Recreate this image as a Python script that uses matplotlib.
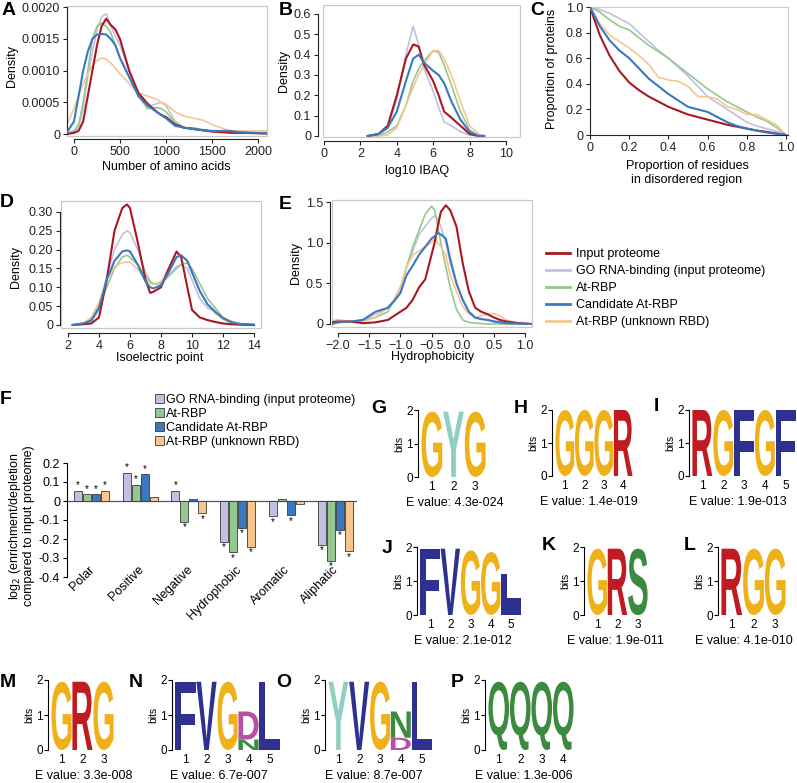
import numpy as np
import matplotlib
matplotlib.use('Agg')
import matplotlib.pyplot as plt
from matplotlib.patches import Rectangle, PathPatch, Patch
from matplotlib.lines import Line2D
from matplotlib.textpath import TextPath
from matplotlib.font_manager import FontProperties
from matplotlib.transforms import Affine2D

plt.rcParams['font.family'] = 'Liberation Sans'
plt.rcParams['font.size'] = 9
FS = 9

######################################################################## data
series = ['Input proteome', 'GO RNA-binding (input proteome)', 'At-RBP',
          'Candidate At-RBP', 'At-RBP (unknown RBD)']
colors = {'Input proteome': '#a8191f',
          'GO RNA-binding (input proteome)': '#c3bfe0',
          'At-RBP': '#93c98f',
          'Candidate At-RBP': '#3b78c2',
          'At-RBP (unknown RBD)': '#f6c590'}

# A : protein length
a_x = [-76, 0, 50, 100, 150, 200, 250, 300, 350, 400, 450, 500, 600, 700, 800, 900,
       950, 1000, 1100, 1200, 1300, 1400, 1500, 1600, 1700, 1800, 2098]
a_red = [0, 0.00002, 0.00005, 0.0002, 0.0006, 0.001, 0.0014, 0.0017, 0.00182, 0.00172,
         0.00165, 0.0015, 0.001, 0.00065, 0.00048, 0.00035, 0.0003, 0.00027, 0.00015,
         0.0001, 0.00008, 0.00006, 0.00004, 0.00003, 0.00002, 0.00002, 0.00001]
a_go = [0.00001, 0.00003, 0.0001, 0.0004, 0.0009, 0.0013, 0.00165, 0.00185, 0.0019,
        0.0017, 0.00155, 0.0014, 0.001, 0.0006, 0.00043, 0.00048, 0.0005, 0.00045,
        0.0002, 0.0001, 0.00008, 0.00006, 0.00005, 0.00004, 0.00003, 0.00002, 0.00001]
a_at = [0.00002, 0.00005, 0.00015, 0.0005, 0.001, 0.0015, 0.0017, 0.00175, 0.0017,
        0.0016, 0.0014, 0.0012, 0.0009, 0.0006, 0.0004, 0.00042, 0.0004, 0.00035,
        0.00018, 0.0001, 0.0001, 0.00007, 0.00005, 0.00004, 0.00003, 0.00002, 0.00001]
a_cand = [0.00003, 0.0002, 0.0006, 0.001, 0.0013, 0.0015, 0.00157, 0.00158, 0.00157,
          0.0015, 0.0014, 0.0012, 0.0009, 0.0006, 0.00045, 0.00035, 0.0003, 0.00025,
          0.00013, 0.0001, 0.00008, 0.00006, 0.00005, 0.00005, 0.00005, 0.00003, 0.00001]
a_unk = [0.00016, 0.0004, 0.0006, 0.0008, 0.00095, 0.00108, 0.00116, 0.0012, 0.00118,
         0.00112, 0.00104, 0.00095, 0.0008, 0.00065, 0.0006, 0.00055, 0.0005, 0.00047,
         0.00035, 0.00028, 0.00025, 0.00022, 0.00015, 0.0001, 0.00005, 0.00005, 0.00005]

# B : log10 IBAQ
b_x = [2.4, 3.0, 3.5, 4.0, 4.5, 4.9, 5.2, 5.5, 6.0, 6.3, 6.6, 7.0, 7.5, 8.0, 8.5, 8.8]
b_red = [0, 0.01, 0.05, 0.2, 0.38, 0.45, 0.44, 0.35, 0.27, 0.2, 0.12, 0.09, 0.05, 0.01, 0.0, 0]
b_go = [0, 0.01, 0.04, 0.18, 0.4, 0.54, 0.45, 0.33, 0.22, 0.14, 0.07, 0.05, 0.02, 0.005, 0, 0]
b_at = [0, 0, 0.02, 0.05, 0.15, 0.27, 0.33, 0.37, 0.42, 0.41, 0.35, 0.25, 0.12, 0.03, 0, 0]
b_cand = [0, 0.01, 0.04, 0.12, 0.27, 0.38, 0.4, 0.36, 0.32, 0.3, 0.26, 0.17, 0.08, 0.02, 0, 0]
b_unk = [0, 0, 0.005, 0.04, 0.15, 0.24, 0.3, 0.35, 0.42, 0.42, 0.38, 0.3, 0.17, 0.05, 0.01, 0]

# C : disorder
c_x = [0, 0.05, 0.1, 0.15, 0.2, 0.25, 0.3, 0.35, 0.4, 0.45, 0.5, 0.55, 0.6, 0.65, 0.7,
       0.75, 0.8, 0.85, 0.9, 0.95, 1.0]
c_red = [1, 0.78, 0.62, 0.5, 0.41, 0.35, 0.3, 0.26, 0.22, 0.19, 0.16, 0.14, 0.12, 0.1,
         0.08, 0.065, 0.05, 0.035, 0.025, 0.012, 0]
c_go = [1, 0.98, 0.95, 0.91, 0.87, 0.8, 0.73, 0.66, 0.6, 0.53, 0.46, 0.38, 0.3, 0.25,
        0.2, 0.15, 0.1, 0.07, 0.05, 0.03, 0]
c_at = [1, 0.96, 0.9, 0.85, 0.82, 0.76, 0.7, 0.65, 0.6, 0.54, 0.48, 0.42, 0.36, 0.31,
        0.26, 0.22, 0.18, 0.14, 0.11, 0.06, 0]
c_cand = [1, 0.85, 0.74, 0.66, 0.6, 0.52, 0.44, 0.38, 0.32, 0.27, 0.22, 0.2, 0.18, 0.14,
          0.1, 0.07, 0.05, 0.035, 0.02, 0.01, 0]
c_unk = [1, 0.87, 0.78, 0.73, 0.68, 0.62, 0.55, 0.45, 0.43, 0.42, 0.38, 0.3, 0.3, 0.28,
         0.22, 0.2, 0.16, 0.16, 0.12, 0.08, 0]

# D : isoelectric point
d_x = [2.3, 3.0, 3.5, 4.0, 4.5, 5.0, 5.5, 5.8, 6.0, 6.5, 7.0, 7.3, 7.5, 8.0, 8.5, 9.0,
       9.3, 9.7, 10.0, 10.5, 11.0, 11.5, 12.0, 12.5, 13.0, 14.0]
d_red = [0, 0.002, 0.004, 0.02, 0.12, 0.25, 0.31, 0.32, 0.31, 0.22, 0.12, 0.085, 0.088,
         0.1, 0.15, 0.195, 0.18, 0.1, 0.04, 0.02, 0.013, 0.008, 0.004, 0.002, 0.001, 0]
d_go = [0, 0.003, 0.01, 0.04, 0.13, 0.2, 0.24, 0.25, 0.245, 0.2, 0.14, 0.115, 0.108,
        0.11, 0.13, 0.155, 0.16, 0.15, 0.12, 0.07, 0.045, 0.035, 0.02, 0.01, 0.004, 0]
d_at = [0, 0.005, 0.015, 0.05, 0.1, 0.15, 0.18, 0.185, 0.18, 0.16, 0.13, 0.115, 0.11,
        0.11, 0.13, 0.15, 0.16, 0.165, 0.15, 0.11, 0.07, 0.045, 0.02, 0.01, 0.004, 0]
d_cand = [0, 0.004, 0.012, 0.045, 0.12, 0.17, 0.195, 0.198, 0.195, 0.16, 0.115, 0.1,
          0.097, 0.105, 0.14, 0.18, 0.185, 0.17, 0.14, 0.09, 0.055, 0.035, 0.018, 0.008,
          0.003, 0.001]
d_unk = [0.001, 0.005, 0.02, 0.06, 0.12, 0.155, 0.165, 0.167, 0.167, 0.148, 0.122, 0.11,
         0.108, 0.115, 0.15, 0.18, 0.185, 0.17, 0.14, 0.09, 0.055, 0.03, 0.015, 0.006,
         0.002, 0]

# E : hydrophobicity
e_x = [-2.1, -2.0, -1.8, -1.6, -1.4, -1.2, -1.1, -1.0, -0.9, -0.8, -0.7, -0.6, -0.5,
       -0.45, -0.4, -0.35, -0.27, -0.2, -0.1, 0.0, 0.1, 0.2, 0.3, 0.4, 0.5, 0.6, 0.7,
       0.9, 1.1]
e_red = [0.02, 0.03, 0.03, 0.01, 0.02, 0.05, 0.1, 0.15, 0.2, 0.3, 0.45, 0.55, 0.85, 1.0,
         1.2, 1.38, 1.46, 1.4, 1.2, 0.75, 0.4, 0.2, 0.15, 0.12, 0.08, 0.05, 0.03, 0.01, 0]
e_go = [0.04, 0.05, 0.03, 0.05, 0.12, 0.2, 0.3, 0.4, 0.7, 0.9, 1.1, 1.2, 1.3, 1.33, 1.3,
        1.2, 1.0, 0.75, 0.5, 0.3, 0.15, 0.07, 0.06, 0.05, 0.04, 0.03, 0.02, 0.01, 0]
e_at = [0.02, 0.03, 0.03, 0.05, 0.08, 0.15, 0.3, 0.45, 0.7, 0.95, 1.15, 1.35, 1.45, 1.4,
        1.2, 1.0, 0.7, 0.45, 0.18, 0.05, 0.02, 0.01, 0.005, 0, 0, 0, 0, 0, 0]
e_cand = [0.0, 0.02, 0.03, 0.05, 0.15, 0.2, 0.28, 0.38, 0.6, 0.72, 0.85, 0.95, 1.05,
          1.08, 1.12, 1.1, 1.05, 0.8, 0.5, 0.3, 0.15, 0.08, 0.06, 0.05, 0.03, 0.02, 0.01,
          0.005, 0]
e_unk = [0.03, 0.05, 0.03, 0.03, 0.08, 0.2, 0.3, 0.45, 0.7, 0.85, 0.9, 0.95, 1.0, 1.05,
         1.0, 0.95, 0.85, 0.6, 0.4, 0.22, 0.12, 0.08, 0.1, 0.12, 0.13, 0.1, 0.05, 0.01, 0]

# F : residue class enrichment
f_cats = ['Polar', 'Positive', 'Negative', 'Hydrophobic', 'Aromatic', 'Aliphatic']
f_go = [0.055, 0.15, 0.055, -0.215, -0.08, -0.23]
f_at = [0.035, 0.085, -0.11, -0.27, 0.01, -0.315]
f_cand = [0.035, 0.14, 0.01, -0.14, -0.075, -0.15]
f_unk = [0.055, 0.02, -0.065, -0.24, -0.015, -0.265]
f_go_sig = [1, 1, 1, 1, 1, 1]
f_at_sig = [1, 1, 1, 1, 0, 1]
f_cand_sig = [1, 1, 0, 1, 1, 1]
f_unk_sig = [1, 0, 1, 1, 0, 1]

# G-P : motifs, each column bottom -> top (letter, bits)
logo_G = [[('G', 1.95)], [('Y', 1.95)], [('G', 1.95)]]
logo_H = [[('G', 2.0)], [('G', 2.0)], [('G', 2.0)], [('R', 2.0)]]
logo_I = [[('R', 2.0)], [('G', 2.0)], [('F', 2.0)], [('G', 2.0)], [('F', 2.0)]]
logo_J = [[('F', 1.95)], [('V', 1.95)], [('G', 1.9)], [('G', 1.85)], [('I', 0.35), ('L', 0.85)]]
logo_K = [[('G', 1.95)], [('R', 1.95)], [('S', 1.95)]]
logo_L = [[('R', 1.95)], [('G', 1.95)], [('G', 1.95)]]
logo_M = [[('G', 1.95)], [('R', 1.95)], [('G', 1.95)]]
logo_N = [[('F', 1.95)], [('V', 1.95)], [('G', 1.95)], [('N', 0.3), ('D', 0.8)], [('L', 1.95)]]
logo_O = [[('Y', 1.95)], [('V', 1.95)], [('G', 1.95)], [('D', 0.35), ('N', 0.75)], [('L', 1.95)]]
logo_P = [[('Q', 1.95)], [('Q', 1.95)], [('Q', 1.95)], [('Q', 1.95)]]
evalues = {'G': '4.3e-024', 'H': '1.4e-019', 'I': '1.9e-013', 'J': '2.1e-012',
           'K': '1.9e-011', 'L': '4.1e-010', 'M': '3.3e-008', 'N': '6.7e-007',
           'O': '8.7e-007', 'P': '1.3e-006'}
letter_colors = {'G': '#efb11a', 'Y': '#8fcfc1', 'R': '#c11b22', 'F': '#2f3190',
                 'V': '#2f3190', 'L': '#2f3190', 'I': '#2f3190', 'S': '#3b8a3e',
                 'Q': '#3b8a3e', 'N': '#3b8a3e', 'D': '#b552a6'}

######################################################################## figure
W, H = 797, 783
fig = plt.figure(figsize=(W / 100, H / 100), dpi=100)


def add_ax(l, t, r, b):
    return fig.add_axes([l / W, 1 - b / H, (r - l) / W, (b - t) / H])


def ftext(x, y, s, **kw):
    fig.text(x / W, 1 - y / H, s, **kw)


def density_panel(box, xlim, ylim, xticks, yticks, xlabs, ylabs, left_off, bot_off, curves, x):
    ax = add_ax(*box)
    ax.set_xlim(*xlim)
    ax.set_ylim(*ylim)
    ax.spines['top'].set_visible(False)
    ax.spines['right'].set_visible(False)
    ax.add_patch(Rectangle((0, 0), 1, 1, transform=ax.transAxes, fill=False,
                           ec='#c9c9c9', lw=0.9, clip_on=False, zorder=0))
    ax.spines['left'].set_position(('outward', left_off * 0.72))
    ax.spines['bottom'].set_position(('outward', bot_off * 0.72))
    ax.spines['left'].set_bounds(yticks[0], yticks[-1])
    ax.spines['bottom'].set_bounds(xticks[0], xticks[-1])
    for sp in ['left', 'bottom']:
        ax.spines[sp].set_linewidth(0.8)
        ax.spines[sp].set_color('#222222')
    ax.set_xticks(xticks)
    ax.set_xticklabels(xlabs)
    ax.set_yticks(yticks)
    ax.set_yticklabels(ylabs)
    ax.tick_params(labelsize=FS, length=3, width=0.8, pad=2, colors='#222222')
    for name, yv in zip(series, curves):
        lw = 1.5 if name in ('Input proteome', 'Candidate At-RBP') else 1.2
        ax.plot(x, yv, color=colors[name], lw=lw, zorder=3 if lw > 1.3 else 2)
    return ax


# A
density_panel((67, 6, 267, 136), (-76, 2098), (-0.00003, 0.00202),
              [0, 500, 1000, 1500, 2000], [0, 0.0005, 0.001, 0.0015, 0.002],
              ['0', '500', '1000', '1500', '2000'],
              ['0', '0.0005', '0.0010', '0.0015', '0.0020'], 0, 3,
              [a_red, a_go, a_at, a_cand, a_unk], a_x)
ftext(166, 167, 'Number of amino acids', ha='center', va='center')
ftext(12, 66, 'Density', rotation=90, ha='center', va='center')

# B
density_panel((323, 5, 520, 137), (-0.055, 10.77), (-0.005, 0.644),
              [0, 2, 4, 6, 8, 10], [0, 0.1, 0.2, 0.3, 0.4, 0.5, 0.6],
              ['0', '2', '4', '6', '8', '10'],
              ['0', '0.1', '0.2', '0.3', '0.4', '0.5', '0.6'], 5, 4,
              [b_red, b_go, b_at, b_cand, b_unk], b_x)
ftext(417, 171, 'log10 IBAQ', ha='center', va='center')
ftext(284, 71, 'Density', rotation=90, ha='center', va='center')

# C
axc = add_ax(590, 7, 788, 135)
axc.set_xlim(0, 1.01)
axc.set_ylim(0, 1.0)
for sp in ['top', 'right']:
    axc.spines[sp].set_color('#c9c9c9')
for sp in ['left', 'bottom']:
    axc.spines[sp].set_color('#222222')
    axc.spines[sp].set_linewidth(0.8)
axc.set_xticks([0, 0.2, 0.4, 0.6, 0.8, 1.0])
axc.set_xticklabels(['0', '0.2', '0.4', '0.6', '0.8', '1.0'])
axc.set_yticks([0, 0.2, 0.4, 0.6, 0.8, 1.0])
axc.set_yticklabels(['0', '0.2', '0.4', '0.6', '0.8', '1.0'])
axc.tick_params(labelsize=FS, length=3, width=0.8, pad=2, colors='#222222')
for name, yv in zip(series, [c_red, c_go, c_at, c_cand, c_unk]):
    lw = 1.5 if name in ('Input proteome', 'Candidate At-RBP') else 1.2
    axc.plot(c_x, yv, color=colors[name], lw=lw, zorder=3 if lw > 1.3 else 2)
ftext(687, 173, 'Proportion of residues\nin disordered region', ha='center',
      va='center', linespacing=1.2)
ftext(552, 69, 'Proportion of proteins', rotation=90, ha='center', va='center')

# D
density_panel((61, 201, 261, 328), (1.55, 14.45), (-0.008, 0.329),
              [2, 4, 6, 8, 10, 12, 14], [0, 0.05, 0.1, 0.15, 0.2, 0.25, 0.3],
              ['2', '4', '6', '8', '10', '12', '14'],
              ['0', '0.05', '0.10', '0.15', '0.20', '0.25', '0.30'], 1, 5,
              [d_red, d_go, d_at, d_cand, d_unk], d_x)
ftext(160, 358, 'Isoelectric point', ha='center', va='center')
ftext(16, 267, 'Density', rotation=90, ha='center', va='center')

# E
density_panel((332, 200, 532, 327), (-2.096, 1.112), (-0.037, 1.525),
              [-2, -1.5, -1, -0.5, 0, 0.5, 1], [0, 0.5, 1.0, 1.5],
              ['\u22122.0', '\u22121.5', '\u22121.0', '\u22120.5', '0.0', '0.5', '1.0'],
              ['0', '0.5', '1.0', '1.5'], 2, 6,
              [e_red, e_go, e_at, e_cand, e_unk], e_x)
ftext(433, 357, 'Hydrophobicity', ha='center', va='center')
ftext(296, 263, 'Density', rotation=90, ha='center', va='center')

# legend for A-E
fig.legend(handles=[Line2D([], [], color=colors[s], lw=2) for s in series],
           labels=series, loc='upper left', bbox_to_anchor=(546 / W, 1 - 248 / H),
           frameon=False, fontsize=FS, handlelength=1.9, handletextpad=0.5,
           labelspacing=0.4, borderpad=0, borderaxespad=0)

# F
axf = add_ax(67, 463, 357, 577)
axf.set_xlim(-0.503, 5.45)
axf.set_ylim(-0.4, 0.2)
for sp in ['top', 'right', 'bottom']:
    axf.spines[sp].set_visible(False)
axf.spines['left'].set_linewidth(0.8)
axf.axhline(0, color='#555555', lw=0.9, zorder=1)
axf.set_yticks([0.2, 0.1, 0, -0.1, -0.2, -0.3, -0.4])
axf.set_yticklabels(['0.2', '0.1', '0', '-0.1', '-0.2', '-0.3', '-0.4'])
axf.set_xticks([])
axf.tick_params(axis='y', labelsize=FS, length=3, width=0.8, pad=2)
pitch, bw = 0.185, 0.165
xpos = np.arange(len(f_cats))
fser = [(f_go, f_go_sig, series[1]), (f_at, f_at_sig, series[2]),
        (f_cand, f_cand_sig, series[3]), (f_unk, f_unk_sig, series[4])]
for k, (vals, sig, name) in enumerate(fser):
    xs = xpos + (k - 1.5) * pitch
    axf.bar(xs, vals, width=bw, color=colors[name], edgecolor='#3a3a3a', lw=0.6, zorder=2)
    for xi, v, s in zip(xs, vals, sig):
        if s:
            if v >= 0:
                axf.text(xi, v + 0.003, '*', ha='center', va='bottom', fontsize=7)
            else:
                axf.text(xi, v - 0.003, '*', ha='center', va='top', fontsize=7)
for i, c in enumerate(f_cats):
    axf.text(i + 0.12, -0.33, c, rotation=45, ha='right', va='top', fontsize=FS)
ftext(21, 526, 'log$_2$ (enrichment/depletion\ncompared to input proteome)',
      rotation=90, ha='center', va='center', linespacing=1.1)
fig.legend(handles=[Patch(fc=colors[s], ec='#3a3a3a', lw=0.6) for s in series[1:]],
           labels=series[1:], loc='upper left', bbox_to_anchor=(155 / W, 1 - 394 / H),
           frameon=False, fontsize=FS, handlelength=0.7, handleheight=0.7,
           handletextpad=0.2, labelspacing=0.15, borderpad=0, borderaxespad=0)

# logos
logo_font = FontProperties(family='Liberation Sans', weight='bold')


def draw_letter(ax, ch, x0, y0, w, h, color):
    tp = TextPath((0, 0), ch, size=1, prop=logo_font)
    bb = tp.get_extents()
    tr = Affine2D().translate(-bb.x0, -bb.y0).scale(w / bb.width, h / bb.height).translate(x0, y0)
    ax.add_patch(PathPatch(tr.transform_path(tp), fc=color, ec='none'))


def logo_panel(key, motif, l, t, r, b, ev_x):
    ax = add_ax(l, t, r, b)
    n = len(motif)
    ax.set_xlim(0.5, n + 0.5)
    ax.set_ylim(0, 2)
    for sp in ['top', 'right', 'bottom']:
        ax.spines[sp].set_visible(False)
    ax.spines['left'].set_position(('outward', 2))
    ax.spines['left'].set_linewidth(0.8)
    ax.set_yticks([0, 1, 2])
    ax.set_yticklabels(['0', '1', '2'])
    ax.set_xticks(np.arange(1, n + 1))
    ax.set_xticklabels([str(i) for i in range(1, n + 1)])
    ax.tick_params(axis='y', labelsize=8.5, length=3, width=0.8, pad=1)
    ax.tick_params(axis='x', labelsize=8.5, length=0, pad=3)
    ax.set_ylabel('bits', fontsize=7.5, labelpad=1)
    ftext(ev_x, b + 26, 'E value: ' + evalues[key], ha='center', va='center', fontsize=FS)
    for i, col in enumerate(motif):
        y0 = 0
        for ch, hgt in col:
            draw_letter(ax, ch, i + 1 - 0.48, y0, 0.96, hgt, letter_colors[ch])
            y0 += hgt
    return ax


logo_panel('G', logo_G, 421, 410, 486, 477, 455)
logo_panel('H', logo_H, 555, 410, 633, 476, 589)
logo_panel('I', logo_I, 692, 410, 796, 476, 738)
logo_panel('J', logo_J, 420, 547, 521, 615, 463)
logo_panel('K', logo_K, 587, 547, 648, 615, 615)
logo_panel('L', logo_L, 721, 547, 786, 615, 744)
logo_panel('M', logo_M, 51, 680, 114, 750, 84)
logo_panel('N', logo_N, 175, 680, 280, 750, 219)
logo_panel('O', logo_O, 328, 680, 432, 750, 374)
logo_panel('P', logo_P, 488, 680, 574, 750, 524)

# panel letters
for lab, x, y in [('A', 2, 2), ('B', 279, 2), ('C', 530, 2), ('D', 0, 194), ('E', 279, 196),
                  ('F', 0, 391), ('G', 371, 400), ('H', 514, 400), ('I', 654, 398),
                  ('J', 382, 540), ('K', 542, 537), ('L', 684, 537),
                  ('M', 0, 674), ('N', 129, 674), ('O', 276, 674), ('P', 451, 674)]:
    ftext(x, y, lab, fontsize=14, fontweight='bold', ha='left', va='top')

fig.savefig('out.png', dpi=100)
